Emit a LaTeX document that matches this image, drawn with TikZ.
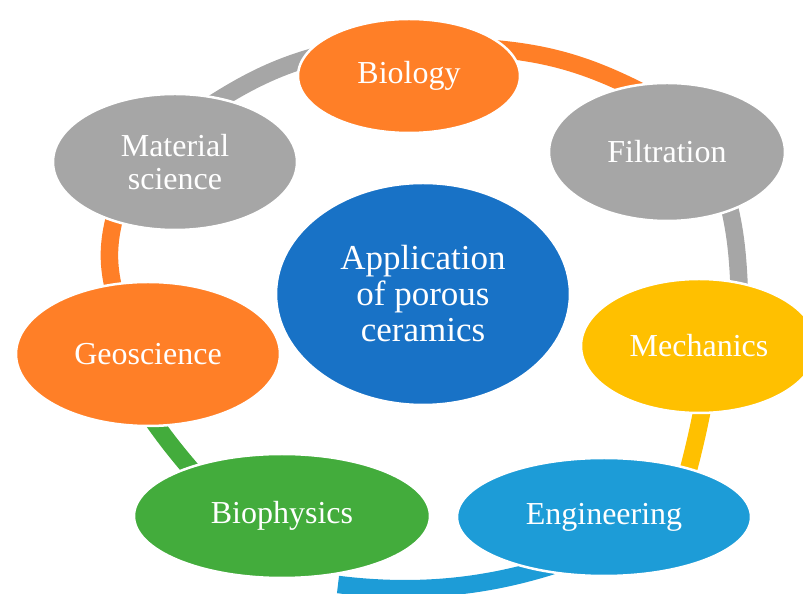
\documentclass[tikz,border=0pt]{standalone}
\usepackage{fontspec}
\setmainfont{Liberation Serif}
\usetikzlibrary{shapes.geometric}
\pgfdeclarelayer{background}
\pgfsetlayers{background,main}
\definecolor{cOrange}{RGB}{255,127,39}
\definecolor{cGray}{RGB}{166,166,166}
\definecolor{cYellow}{RGB}{255,192,0}
\definecolor{cSky}{RGB}{29,156,215}
\definecolor{cGreen}{RGB}{67,172,60}
\definecolor{cBlue}{RGB}{24,114,198}
\begin{document}
\begin{tikzpicture}[x=1pt,y=1pt,
  bubble/.style={ellipse, draw=white, line width=2.5pt, inner sep=0pt, text=white, align=center, font=\fontsize{32}{33}\selectfont},
  ringseg/.style={line width=17.5pt, line cap=butt}]
\useasboundingbox (0,0) rectangle (803,594);
% nodes
\node[bubble, fill=cBlue, minimum width=294pt, minimum height=222pt, font=\fontsize{35}{36}\selectfont] (app) at (423,300) {Application\\of porous\\ceramics};
\node[bubble, fill=cOrange, minimum width=222pt, minimum height=114pt] (bio) at (409,518) {Biology};
\node[bubble, fill=cGray, minimum width=236pt, minimum height=138pt] (fil) at (667,442) {Filtration};
\node[bubble, fill=cYellow, minimum width=236pt, minimum height=134pt] (mec) at (699,248) {Mechanics};
\node[bubble, fill=cSky, minimum width=294pt, minimum height=118pt] (eng) at (604,77) {Engineering};
\node[bubble, fill=cGreen, minimum width=296pt, minimum height=124pt] (bph) at (282,78) {Biophysics};
\node[bubble, fill=cOrange, minimum width=264pt, minimum height=144pt] (geo) at (148,240) {Geoscience};
\node[bubble, fill=cGray, minimum width=244pt, minimum height=136pt] (mat) at (175,432) {Material\\science};
% ring segments
\begin{pgfonlayer}{background}
\draw[ringseg, cGray]   ([shift={(10,40)}]mat.center)   to[out=34,in=-168]  ([shift={(-64,27)}]bio.center);
\draw[ringseg, cOrange] ([shift={(61,29)}]bio.center)   to[out=-3,in=152]   ([shift={(-12,53)}]fil.center);
\draw[ringseg, cGray]   ([shift={(53,-22)}]fil.center)  to[out=-72,in=92]   ([shift={(41,37)}]mec.center);
\draw[ringseg, cYellow] ([shift={(7,-43)}]mec.center)   to[out=-100,in=75]  ([shift={(78,23)}]eng.center);
\draw[ringseg, cSky]    ([shift={(-29,-41)}]eng.center) to[out=-160,in=-7,looseness=0.9] ([shift={(56,-68.5)}]bph.center);
\draw[ringseg, cGreen]  ([shift={(-74,27)}]bph.center)  to[out=131,in=-56]  ([shift={(-3,-55)}]geo.center);
\draw[ringseg, cOrange] ([shift={(-30,50)}]geo.center)  to[out=108,in=-108] ([shift={(-55,-37)}]mat.center);
\end{pgfonlayer}
\end{tikzpicture}
\end{document}
